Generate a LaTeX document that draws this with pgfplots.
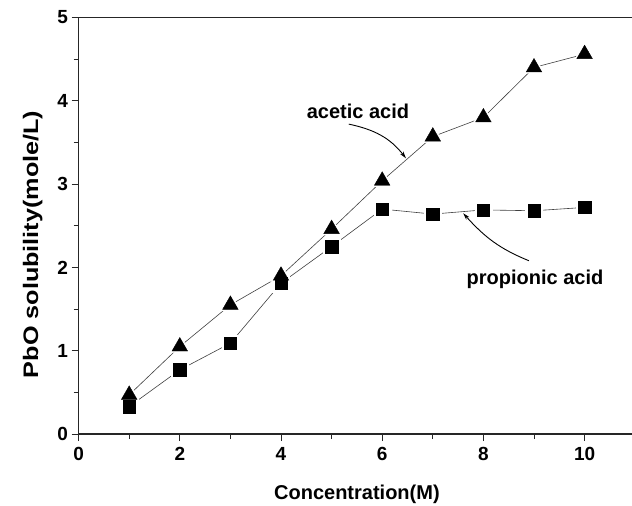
\documentclass[border=0pt]{standalone}
\usepackage{pgfplots}
\pgfplotsset{compat=1.18}
\usepackage{fontspec}
\setmainfont{Liberation Sans}
\usetikzlibrary{arrows.meta}

\pgfplotstableread{
x y
1 0.47
2 1.05
3 1.55
4 1.90
5 2.46
6 3.04
7 3.57
8 3.80
9 4.40
10 4.56
}\acetic

\pgfplotstableread{
x y
1 0.33
2 0.77
3 1.09
4 1.81
5 2.25
6 2.70
7 2.64
8 2.69
9 2.68
10 2.72
}\propionic

\begin{document}
\begin{tikzpicture}
\begin{axis}[
  name=ax,
  scale only axis,
  width=556.6pt, height=416.5pt,
  xmin=0, xmax=11, ymin=0, ymax=5,
  axis line style={line width=1.3pt, black!85},
  xtick={0,2,...,10}, ytick={0,1,...,5},
  minor xtick={1,3,...,11}, minor ytick={0.5,1.5,...,4.5},
  tick align=outside,
  xtick pos=bottom, ytick pos=left,
  major tick length=7pt, minor tick length=5pt,
  every tick/.style={line width=1pt, black!85},
  /pgf/number format/assume math mode=true,
  ticklabel style={font=\bfseries\fontsize{19}{19}\selectfont},
  xticklabel style={yshift=-3pt},
  xlabel={Concentration(M)},
  ylabel={\scalebox{1.2}[1]{PbO solubility(mole/L)}},
  xlabel style={font=\bfseries\fontsize{20}{20}\selectfont,
    at={(axis description cs:0.5,0)}, anchor=center, yshift=-60pt},
  ylabel style={font=\bfseries\fontsize{21}{21}\selectfont,
    at={(axis description cs:0,0.455)}, anchor=center, yshift=46pt},
  clip=false,
]
% connecting lines
\addplot[line width=0.6pt, black!75] table {\acetic};
\addplot[line width=0.6pt, black!75] table {\propionic};
% white halos leave a small gap between line and marker
\addplot[only marks, mark=triangle*, mark size=12pt, white, mark options={fill=white, draw=white}] table {\acetic};
\addplot[only marks, mark=square*, mark size=8.5pt, white, mark options={fill=white, draw=white}] table {\propionic};
% markers
\addplot[only marks, mark=triangle*, mark size=9pt, black, mark options={fill=black}] table {\acetic};
\addplot[only marks, mark=square*, mark size=6.2pt, black, mark options={fill=black}] table {\propionic};

% annotations
\node[anchor=base, font=\bfseries\fontsize{20}{20}\selectfont] at (axis cs:5.52,3.79) {acetic acid};
\draw[-{Stealth[length=7pt,width=4pt]}, line width=0.9pt] (axis cs:5.34,3.72) to[out=-12, in=128] (axis cs:6.47,3.31);
\node[anchor=base, font=\bfseries\fontsize{20}{20}\selectfont] at (axis cs:9.02,1.79) {propionic acid};
\draw[-{Stealth[length=7pt,width=4pt]}, line width=0.9pt] (axis cs:8.90,2.08) to[out=158, in=-48] (axis cs:7.60,2.65);
\end{axis}
\pgfresetboundingbox
\path ([shift={(-78.6pt,-72pt)}]ax.south west) rectangle ([shift={(553.4pt,17.5pt)}]ax.north west);
\end{tikzpicture}
\end{document}
